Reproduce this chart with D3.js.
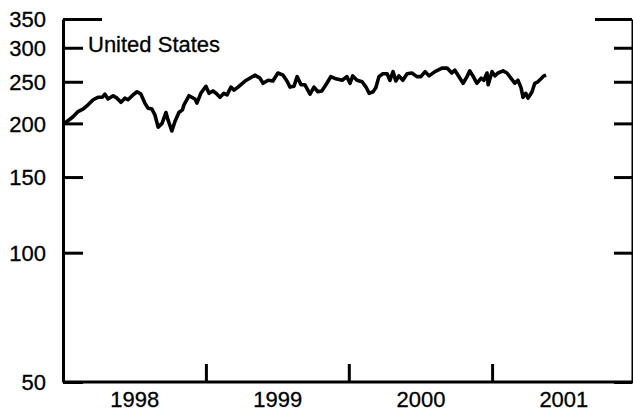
<!DOCTYPE html>
<html>
<head>
<meta charset="utf-8">
<script src="https://cdn.jsdelivr.net/npm/d3@7"></script>
<style>
  html, body { margin: 0; padding: 0; background: #fff; }
  svg { display: block; font-family: "Liberation Sans", Arial, Helvetica, sans-serif; }
  .axis path, .axis line { stroke: #000; stroke-width: 3; }
  .axis text { font-size: 22px; fill: #000; stroke: #000; stroke-width: 0.3; }
</style>
</head>
<body>
<svg id="chart" width="633" height="415"></svg>
<script>
// Index level, weekly readings (log scale)
const dates = [
  "1998-01-01","1998-01-11","1998-01-26","1998-02-08","1998-02-21","1998-03-06","1998-03-19","1998-03-31",
  "1998-04-11","1998-04-18","1998-04-26","1998-05-09","1998-05-19","1998-05-29","1998-06-08","1998-06-16",
  "1998-06-29","1998-07-09","1998-07-19","1998-07-29","1998-08-06","1998-08-16","1998-08-24","1998-09-01",
  "1998-09-11","1998-09-21","1998-09-26","1998-10-06","1998-10-14","1998-10-24","1998-11-02","1998-11-06",
  "1998-11-19","1998-12-04","1998-12-09","1998-12-19","1999-01-01","1999-01-09","1999-01-19","1999-01-27",
  "1999-02-06","1999-02-16","1999-02-24","1999-03-06","1999-03-14","1999-03-24","1999-04-11","1999-05-06",
  "1999-05-19","1999-05-27","1999-06-09","1999-06-21","1999-07-04","1999-07-17","1999-07-27","1999-08-04",
  "1999-08-14","1999-08-22","1999-09-01","1999-09-11","1999-09-24","1999-10-04","1999-10-14","1999-10-24",
  "1999-11-06","1999-11-16","1999-11-29","1999-12-15","1999-12-27","2000-01-04","2000-01-11","2000-01-22",
  "2000-02-04","2000-02-14","2000-02-22","2000-03-03","2000-03-10","2000-03-18","2000-03-28","2000-04-08",
  "2000-04-15","2000-04-23","2000-04-30","2000-05-08","2000-05-18","2000-05-29","2000-06-10","2000-06-23",
  "2000-07-03","2000-07-14","2000-07-24","2000-08-08","2000-08-26","2000-09-08","2000-09-20","2000-09-28",
  "2000-10-06","2000-10-19","2000-10-29","2000-11-05","2000-11-13","2000-11-23","2000-12-04","2000-12-11",
  "2000-12-19","2000-12-22","2001-01-01","2001-01-08","2001-01-16","2001-01-29","2001-02-08","2001-02-18",
  "2001-02-28","2001-03-08","2001-03-16","2001-03-21","2001-03-28","2001-04-03","2001-04-13","2001-04-20",
  "2001-04-28","2001-05-06","2001-05-13","2001-05-19"
];
const values = [
  200, 202, 207, 213, 216, 221, 227, 230,
  230, 234, 228, 232, 229, 224, 229, 227,
  233, 237, 234, 223, 217, 216, 209, 196,
  200, 212, 204, 192, 202, 212, 215, 221,
  232, 228, 223, 235, 244, 235, 238, 235,
  230, 235, 233, 243, 239, 243, 251, 259,
  255, 248, 252, 251, 262, 259, 251, 243,
  244, 257, 246, 246, 234, 243, 237, 238,
  248, 257, 254, 252, 257, 248, 258, 252,
  250, 243, 235, 237, 242, 257, 261, 261,
  252, 264, 251, 258, 252, 261, 262, 257,
  257, 264, 258, 264, 269, 269, 262, 266,
  259, 248, 257, 265, 258, 248, 255, 252,
  262, 246, 264, 258, 262, 265, 262, 255,
  248, 252, 242, 230, 235, 229, 237, 248,
  250, 254, 258, 259
];
const yTicks = [50, 100, 150, 200, 250, 300, 350];
const yearBreaks = ["1999-01-01", "2000-01-01", "2001-01-01"];
const yearLabels = ["1998", "1999", "2000", "2001"];
const seriesName = "United States";

const parse = d3.utcParse("%Y-%m-%d");
const data = dates.map((d, i) => ({ date: parse(d), value: values[i] }));

const plotLeft = 63, plotRight = 632, plotTop = 19, plotBottom = 382;

const x = d3.scaleUtc()
  .domain([parse("1998-01-01"), parse("2002-01-01")])
  .range([plotLeft, 635]);
const y = d3.scaleLog()
  .domain([50, 350])
  .range([plotBottom, plotTop]);

const svg = d3.select("#chart");

// Left value axis: ticks point into the plot, labels outside
const gLeft = svg.append("g")
  .attr("class", "axis")
  .attr("transform", `translate(${plotLeft},0)`)
  .call(d3.axisLeft(y).tickValues(yTicks).tickFormat(d3.format("d"))
    .tickSizeInner(-20).tickSizeOuter(0).tickPadding(17));
gLeft.selectAll(".tick text").attr("dy", "0.36em");
gLeft.selectAll(".tick").filter(d => d === 350).select("line").attr("x2", 39);

// Right value axis, ticks only
const gRight = svg.append("g")
  .attr("class", "axis")
  .attr("transform", `translate(${plotRight},0)`)
  .call(d3.axisRight(y).tickValues(yTicks).tickFormat("")
    .tickSizeInner(-18).tickSizeOuter(0));
gRight.select(".domain").style("stroke-width", 2);
gRight.selectAll(".tick").filter(d => d === 350).select("line").attr("x2", -37);

// Bottom time axis: year dividers
const gBottom = svg.append("g")
  .attr("class", "axis")
  .attr("transform", `translate(0,${plotBottom})`)
  .call(d3.axisBottom(x).tickValues(yearBreaks.map(parse)).tickFormat("")
    .tickSizeInner(-18).tickSizeOuter(0));
gBottom.select(".domain").attr("d", `M${plotLeft},0H${plotRight + 1}`);

// Year labels centred in each year
const gYears = svg.append("g")
  .attr("class", "axis")
  .attr("transform", `translate(0,${plotBottom})`)
  .call(d3.axisBottom(x)
    .tickValues(yearLabels.map(yr => parse(yr + "-07-02")))
    .tickFormat(d3.utcFormat("%Y"))
    .tickSize(0).tickPadding(9));
gYears.select(".domain").remove();

// Series line
svg.append("path")
  .datum(data)
  .attr("fill", "none")
  .attr("stroke", "#000")
  .attr("stroke-width", 3.6)
  .attr("stroke-linejoin", "round")
  .attr("d", d3.line().x(d => x(d.date)).y(d => y(d.value)));

// Series label
svg.append("text")
  .attr("x", 88)
  .attr("y", 52)
  .attr("font-size", 22)
  .attr("fill", "#000")
  .attr("stroke", "#000")
  .attr("stroke-width", 0.3)
  .text(seriesName);
</script>
</body>
</html>
